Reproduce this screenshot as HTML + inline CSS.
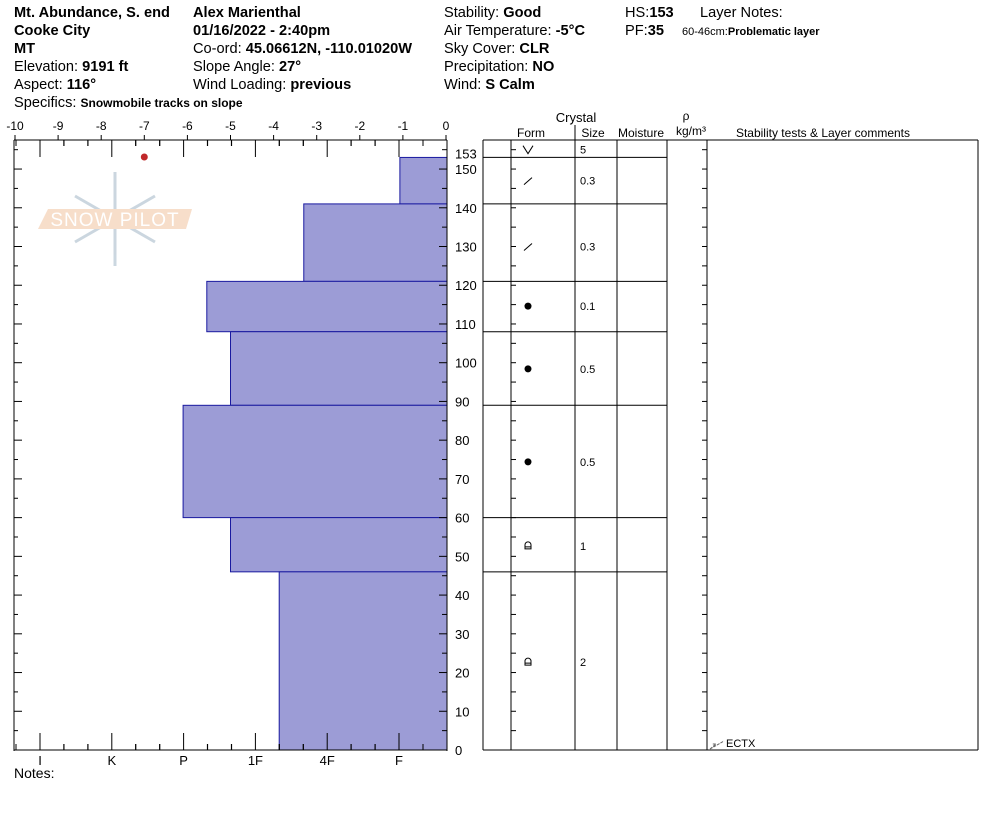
<!DOCTYPE html>
<html><head><meta charset="utf-8">
<style>
body{margin:0;background:#fff;width:994px;height:840px;overflow:hidden;font-family:"Liberation Sans",Arial,sans-serif;}
svg{position:absolute;left:0;top:0}
text{font-family:"Liberation Sans",Arial,sans-serif;fill:#000}
</style></head>
<body>
<svg id="chart" width="994" height="840" viewBox="0 0 994 840">
<g font-size="14.6">
<text x="14" y="17" font-weight="bold">Mt. Abundance, S. end</text>
<text x="14" y="35" font-weight="bold">Cooke City</text>
<text x="14" y="53" font-weight="bold">MT</text>
<text x="14" y="71">Elevation: <tspan font-weight="bold">9191 ft</tspan></text>
<text x="14" y="89">Aspect: <tspan font-weight="bold">116°</tspan></text>
<text x="14" y="107">Specifics: <tspan font-weight="bold" font-size="12">Snowmobile tracks on slope</tspan></text>
<text x="193" y="17" font-weight="bold">Alex Marienthal</text>
<text x="193" y="35" font-weight="bold">01/16/2022 - 2:40pm</text>
<text x="193" y="53">Co-ord: <tspan font-weight="bold">45.06612N, -110.01020W</tspan></text>
<text x="193" y="71">Slope Angle: <tspan font-weight="bold">27°</tspan></text>
<text x="193" y="89">Wind Loading: <tspan font-weight="bold">previous</tspan></text>
<text x="444" y="17">Stability: <tspan font-weight="bold">Good</tspan></text>
<text x="444" y="35">Air Temperature: <tspan font-weight="bold">-5°C</tspan></text>
<text x="444" y="53">Sky Cover: <tspan font-weight="bold">CLR</tspan></text>
<text x="444" y="71">Precipitation: <tspan font-weight="bold">NO</tspan></text>
<text x="444" y="89">Wind:  <tspan font-weight="bold">S Calm</tspan></text>
<text x="625" y="17">HS:<tspan font-weight="bold">153</tspan></text>
<text x="625" y="35">PF:<tspan font-weight="bold">35</tspan></text>
<text x="700" y="17">Layer Notes:</text>
<text x="682" y="35" font-size="11">60-46cm:<tspan font-weight="bold">Problematic layer</tspan></text>
</g>
<g opacity="0.6">
<g stroke="#a9bccb" stroke-width="3" fill="none">
<line x1="115" y1="172" x2="115" y2="266"/><line x1="75" y1="196" x2="155" y2="242"/><line x1="75" y1="242" x2="155" y2="196"/>
</g>
<polygon points="48,209 192,209 186,229 38,229" fill="#f2c9a8"/>
<text x="115" y="226" font-size="19" text-anchor="middle" fill="#fff" style="fill:#fff" letter-spacing="1">SNOW PILOT</text>
</g>
<g id="left"></g>
<g id="right"></g>
<text x="14" y="778" font-size="14">Notes:</text>
</svg>
<script>
const depthTop = [153,141,121,108,89,60,46];
const depthBot = [141,121,108,89,60,46,0];
const hardness = [-1.07,-3.3,-5.55,-5.0,-6.1,-5.0,-3.87];
const grainForm = ['v','/','/','o','o','o','h','h'];
const grainSize = ['5','0.3','0.3','0.1','0.5','0.5','1','2'];
const formDepth = [155,147,130,114.6,98.4,74.4,52.7,22.7];
const topTicks = [-10,-9,-8,-7,-6,-5,-4,-3,-2,-1,0];
const hardLabels = ['I','K','P','1F','4F','F'];
const depthTicks = [0,10,20,30,40,50,60,70,80,90,100,110,120,130,140,150];

const NS='http://www.w3.org/2000/svg';
const L=document.getElementById('left'),R=document.getElementById('right');
const xS=v=>446+v*43.1;
const yS=d=>750-d*3.873;
const hX=i=>40+i*71.8;
function mk(p,tag,a){const e=document.createElementNS(NS,tag);for(const k in a)e.setAttribute(k,a[k]);p.appendChild(e);return e;}
function ln(p,x1,y1,x2,y2,c,w){return mk(p,'line',{x1,y1,x2,y2,stroke:c||'#000','stroke-width':w||1});}
function tx(p,x,y,s,a){const e=mk(p,'text',Object.assign({x,y,'font-size':13},a||{}));e.textContent=s;return e;}

for(let i=0;i<depthTop.length;i++){
  const x=xS(hardness[i]),y=yS(depthTop[i]);
  const r=mk(L,'rect',{x,y,width:447-x,height:yS(depthBot[i])-y,fill:'#9c9cd6',stroke:'#1a1aa0','stroke-width':1});
  
  
}
ln(L,14,140,447,140);ln(L,14,140,14,751);ln(L,14,750,447,750);ln(L,447,140,447,751);
topTicks.forEach(v=>{const x=xS(v);ln(L,x,135,x,140);const t=tx(L,x,130,String(v),{'font-size':12,'text-anchor':'middle'});
});
for(let i=0;i<6;i++){const x=hX(i);ln(L,x,140,x,157);ln(L,x,750,x,733);
 const t=tx(L,x,765,hardLabels[i],{'font-size':13,'text-anchor':'middle'});
 
 for(const f of [-2,-1,1,2]){const xx=x+f*24;if(xx>14&&xx<447){ln(L,xx,140,xx,146);ln(L,xx,750,xx,744);}}}
for(let d=0;d<=155;d+=5){const y=yS(d);const long=d%10===0;
 ln(L,14,y,long?22:18,y);ln(L,long?439:442,y,447,y);
 ln(R,511,y,516,y);ln(R,702,y,707,y);}
depthTicks.forEach(d=>{const t=tx(L,455,yS(d)+5,String(d),{'font-size':13});
});
tx(L,455,yS(153)+1,'153',{'font-size':13});
mk(L,'circle',{cx:xS(-7),cy:157,r:3.5,fill:'#c0282a'});
ln(R,483,140,978,140);ln(R,483,750,978,750);ln(R,978,140,978,750);ln(R,483,140,483,750);
[511,575,617,667,707].forEach(x=>ln(R,x,140,x,750));
ln(R,575,125,575,140);
depthTop.forEach(d=>ln(R,483,yS(d),667,yS(d)));
tx(R,576,122,'Crystal',{'text-anchor':'middle'});
tx(R,531,137,'Form',{'font-size':12,'text-anchor':'middle'});
tx(R,593,137,'Size',{'font-size':12,'text-anchor':'middle'});
tx(R,641,137,'Moisture',{'font-size':12,'text-anchor':'middle'});
tx(R,686,120,'ρ',{'font-size':12,'text-anchor':'middle'});
tx(R,691,135,'kg/m³',{'font-size':12,'text-anchor':'middle'});
tx(R,823,137,'Stability tests & Layer comments',{'font-size':12,'text-anchor':'middle'});
for(let i=0;i<grainForm.length;i++){
 const y=yS(formDepth[i]),f=grainForm[i],cx=528;
 if(f==='v')mk(R,'path',{d:`M${cx-5} ${y-4} L${cx} ${y+4} L${cx+5} ${y-4}`,fill:'none',stroke:'#000'});
 else if(f==='/')ln(R,cx-4,y+4,cx+4,y-3);
 else if(f==='o')mk(R,'circle',{cx,cy:y,r:3.5,fill:'#000'});
 else {mk(R,'path',{d:`M${cx-3} ${y+3} L${cx-3} ${y-1} A3 3 0 0 1 ${cx+3} ${y-1} L${cx+3} ${y+3} Z M${cx-3} ${y+1} L${cx+3} ${y+1}`,fill:'none',stroke:'#000'});}
 const t=tx(R,580,y+4,grainSize[i],{'font-size':11});
 
}
mk(R,'path',{d:'M710 749 L716 744 L712 744 M710 749 L724 741',stroke:'#666',fill:'none','stroke-dasharray':'3,1'});
tx(R,726,747,'ECTX',{'font-size':11});
</script>
</body></html>
